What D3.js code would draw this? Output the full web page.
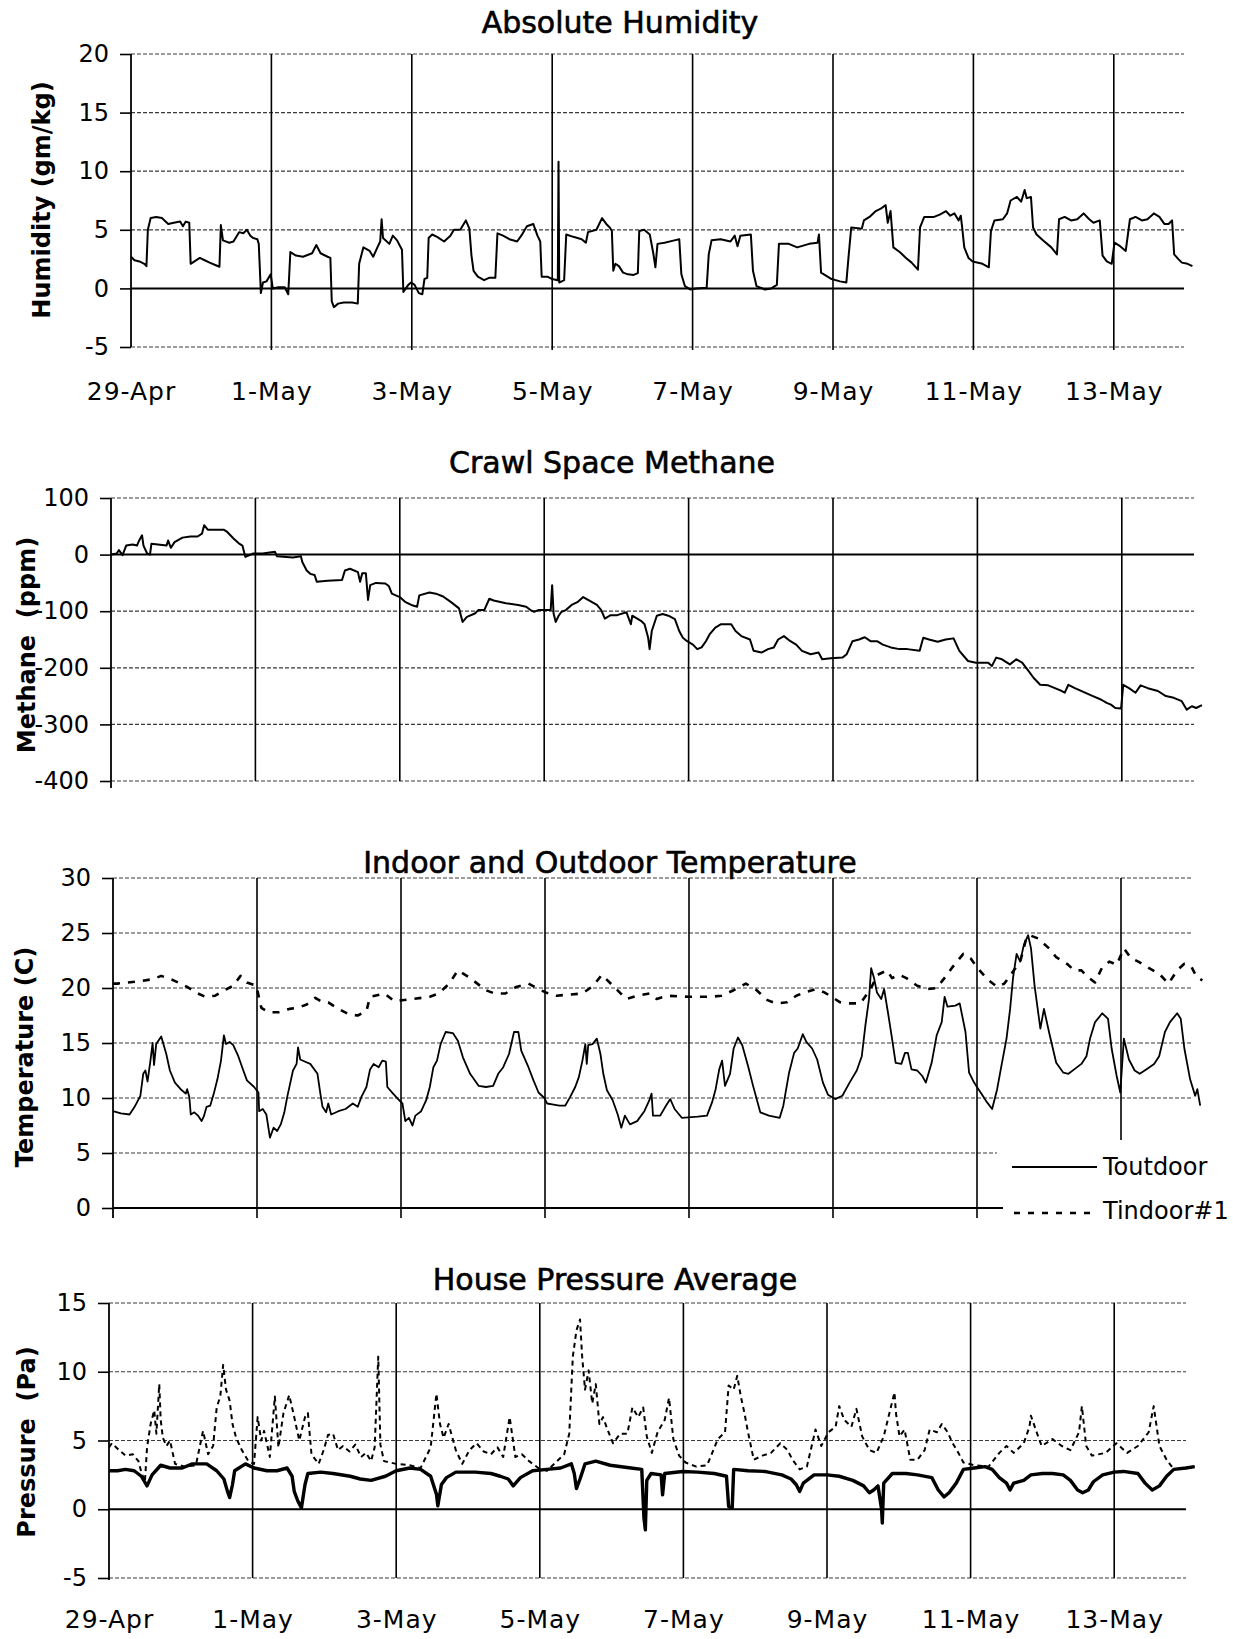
<!DOCTYPE html>
<html>
<head>
<meta charset="utf-8">
<script src="https://cdn.jsdelivr.net/npm/d3@7"></script>
<style>
  body { margin: 0; background: #fff; }
  svg { display: block; }
</style>
</head>
<body>
<svg id="chart" width="1233" height="1639"></svg>
<script>
// ---- data -------------------------------------------------------------
// Time is in days after 29-Apr 00:00; values in the panel's units.
const dateLabels = ["29-Apr", "1-May", "3-May", "5-May", "7-May", "9-May", "11-May", "13-May"];
const humidityTicks = [-5, 0, 5, 10, 15, 20];
const methaneTicks = [-400, -300, -200, -100, 0, 100];
const temperatureTicks = [0, 5, 10, 15, 20, 25, 30];
const pressureTicks = [-5, 0, 5, 10, 15];

const humidity = [[0.00,2.7],[0.05,2.4],[0.12,2.3],[0.19,2.1],[0.22,1.9],[0.24,5.0],[0.28,6.0],[0.36,6.1],[0.44,6.0],[0.53,5.5],[0.61,5.6],[0.70,5.7],[0.74,5.3],[0.78,5.7],[0.83,5.6],[0.85,2.1],[0.98,2.6],[1.05,2.4],[1.12,2.2],[1.20,2.0],[1.26,1.85],[1.28,5.4],[1.31,4.1],[1.40,3.9],[1.46,4.0],[1.54,4.8],[1.60,4.7],[1.65,5.0],[1.70,4.5],[1.74,4.3],[1.80,4.2],[1.82,3.8],[1.85,-0.4],[1.88,0.5],[1.93,0.6],[1.99,1.2],[2.02,0.0],[2.10,0.1],[2.19,0.1],[2.24,-0.5],[2.27,3.1],[2.35,2.8],[2.45,2.7],[2.58,3.0],[2.64,3.7],[2.70,3.0],[2.80,2.7],[2.84,2.6],[2.86,-1.1],[2.89,-1.6],[2.95,-1.3],[3.03,-1.2],[3.15,-1.2],[3.23,-1.3],[3.25,2.1],[3.31,3.5],[3.40,3.2],[3.45,2.7],[3.51,3.5],[3.55,4.0],[3.57,5.9],[3.59,4.3],[3.68,3.8],[3.73,4.5],[3.79,4.1],[3.86,3.3],[3.88,-0.3],[3.95,0.3],[3.99,0.5],[4.04,0.3],[4.10,-0.4],[4.15,-0.5],[4.18,0.8],[4.22,0.9],[4.24,4.3],[4.29,4.6],[4.36,4.4],[4.46,4.0],[4.55,4.5],[4.60,5.0],[4.69,5.0],[4.77,5.8],[4.82,5.1],[4.85,2.8],[4.88,1.5],[4.94,1.0],[5.03,0.7],[5.10,0.9],[5.19,0.9],[5.22,4.7],[5.30,4.5],[5.39,4.2],[5.50,4.0],[5.56,4.5],[5.64,5.3],[5.73,5.5],[5.79,4.5],[5.83,4.0],[5.85,1.0],[5.93,1.0],[6.00,0.8],[6.08,0.7],[6.09,10.8],[6.10,0.5],[6.17,0.7],[6.20,4.6],[6.30,4.4],[6.42,4.2],[6.48,3.9],[6.51,4.8],[6.63,5.0],[6.71,6.0],[6.77,5.5],[6.82,5.2],[6.85,4.9],[6.87,1.5],[6.90,2.1],[6.95,1.9],[7.01,1.35],[7.08,1.2],[7.16,1.15],[7.22,1.3],[7.24,4.9],[7.31,5.0],[7.39,4.6],[7.44,3.0],[7.47,1.8],[7.50,3.8],[7.60,3.9],[7.74,4.1],[7.81,4.2],[7.84,1.2],[7.89,0.2],[7.97,-0.1],[8.05,0.0],[8.20,0.05],[8.23,2.9],[8.27,4.1],[8.40,4.2],[8.54,4.0],[8.60,4.5],[8.64,3.6],[8.68,4.5],[8.83,4.6],[8.86,1.5],[8.91,0.2],[9.03,-0.1],[9.12,0.0],[9.20,0.3],[9.23,3.8],[9.37,3.8],[9.49,3.5],[9.66,3.8],[9.78,3.9],[9.80,4.6],[9.83,1.35],[9.98,0.8],[10.10,0.6],[10.19,0.5],[10.22,2.6],[10.26,5.2],[10.41,5.1],[10.44,5.8],[10.52,6.1],[10.61,6.6],[10.68,6.8],[10.75,7.1],[10.78,5.6],[10.82,6.6],[10.86,3.5],[10.95,3.1],[11.04,2.6],[11.12,2.2],[11.21,1.6],[11.24,5.2],[11.30,6.1],[11.44,6.1],[11.52,6.3],[11.61,6.6],[11.67,6.2],[11.73,6.4],[11.79,5.8],[11.82,6.2],[11.84,5.2],[11.87,3.5],[11.93,2.6],[11.99,2.3],[12.13,2.1],[12.22,1.8],[12.25,4.9],[12.30,5.8],[12.42,5.9],[12.48,6.4],[12.53,7.5],[12.62,7.8],[12.68,7.4],[12.73,8.4],[12.76,7.7],[12.82,7.8],[12.85,5.2],[12.90,4.6],[12.99,4.1],[13.11,3.5],[13.19,2.9],[13.22,5.9],[13.30,6.1],[13.39,5.8],[13.48,5.9],[13.57,6.4],[13.65,5.9],[13.71,5.6],[13.80,5.8],[13.84,2.8],[13.90,2.3],[13.97,2.1],[14.01,3.9],[14.09,3.6],[14.17,3.2],[14.23,5.9],[14.31,6.1],[14.40,5.8],[14.48,5.9],[14.57,6.4],[14.65,6.1],[14.72,5.5],[14.78,5.5],[14.83,5.8],[14.86,2.9],[14.92,2.5],[14.97,2.2],[15.05,2.1],[15.12,1.9]];

const methane = [[0.00,0],[0.08,2],[0.11,8],[0.16,-1],[0.21,16],[0.30,18],[0.36,16],[0.39,25],[0.43,34],[0.45,16],[0.50,2],[0.54,0],[0.56,19],[0.65,18],[0.77,16],[0.79,25],[0.83,12],[0.88,22],[0.99,30],[1.10,32],[1.20,32],[1.26,37],[1.29,52],[1.34,44],[1.45,44],[1.56,44],[1.61,40],[1.70,28],[1.77,20],[1.82,16],[1.86,-4],[1.97,2],[2.10,2],[2.27,5],[2.30,-3],[2.52,-5],[2.63,-3],[2.65,-13],[2.71,-28],[2.76,-34],[2.82,-36],[2.85,-48],[3.00,-46],[3.20,-45],[3.24,-28],[3.31,-25],[3.42,-31],[3.45,-48],[3.48,-33],[3.53,-33],[3.56,-80],[3.59,-54],[3.67,-50],[3.80,-51],[3.85,-56],[3.89,-69],[4.00,-75],[4.08,-84],[4.16,-89],[4.24,-92],[4.27,-72],[4.41,-67],[4.50,-69],[4.60,-74],[4.71,-84],[4.82,-95],[4.87,-119],[4.93,-110],[5.04,-104],[5.09,-98],[5.17,-98],[5.24,-78],[5.30,-81],[5.47,-86],[5.64,-89],[5.75,-92],[5.81,-98],[5.86,-101],[5.92,-98],[6.09,-98],[6.11,-54],[6.13,-104],[6.16,-119],[6.20,-108],[6.24,-101],[6.30,-98],[6.38,-89],[6.46,-84],[6.54,-75],[6.62,-81],[6.73,-89],[6.79,-98],[6.84,-113],[6.92,-107],[7.01,-107],[7.14,-102],[7.20,-123],[7.22,-108],[7.34,-117],[7.39,-123],[7.44,-147],[7.46,-167],[7.49,-135],[7.56,-108],[7.64,-105],[7.72,-108],[7.81,-114],[7.87,-135],[7.92,-147],[7.98,-153],[8.06,-159],[8.12,-167],[8.18,-164],[8.24,-153],[8.29,-141],[8.37,-129],[8.45,-123],[8.59,-123],[8.65,-135],[8.73,-144],[8.85,-150],[8.90,-170],[9.01,-173],[9.10,-167],[9.18,-164],[9.24,-150],[9.32,-144],[9.41,-153],[9.49,-159],[9.57,-170],[9.69,-176],[9.80,-173],[9.85,-185],[9.97,-183],[10.13,-182],[10.19,-176],[10.27,-153],[10.36,-150],[10.44,-146],[10.52,-153],[10.61,-153],[10.69,-159],[10.80,-164],[10.92,-167],[11.03,-167],[11.20,-170],[11.25,-147],[11.33,-150],[11.45,-154],[11.56,-150],[11.67,-148],[11.75,-170],[11.87,-188],[11.98,-191],[12.15,-191],[12.20,-197],[12.26,-182],[12.34,-185],[12.45,-194],[12.54,-185],[12.62,-191],[12.71,-206],[12.78,-218],[12.87,-230],[12.98,-231],[13.15,-240],[13.21,-244],[13.26,-230],[13.35,-236],[13.49,-244],[13.60,-250],[13.71,-256],[13.79,-262],[13.85,-265],[13.91,-271],[13.99,-272],[14.02,-230],[14.10,-236],[14.19,-244],[14.26,-231],[14.36,-236],[14.50,-241],[14.61,-250],[14.72,-253],[14.83,-259],[14.90,-274],[14.97,-268],[15.03,-271],[15.11,-266]];

const tOutdoor = [[0.00,8.8],[0.11,8.6],[0.23,8.5],[0.30,9.2],[0.38,10.2],[0.42,12.2],[0.45,12.5],[0.48,11.5],[0.52,13.4],[0.55,15.0],[0.57,13.0],[0.60,14.9],[0.67,15.6],[0.74,14.0],[0.79,12.5],[0.86,11.4],[0.94,10.8],[1.01,10.4],[1.03,10.8],[1.06,10.1],[1.08,8.5],[1.13,8.7],[1.18,8.4],[1.23,7.9],[1.26,8.3],[1.30,9.2],[1.35,9.3],[1.40,10.4],[1.45,11.7],[1.50,13.4],[1.54,15.7],[1.57,14.9],[1.62,15.1],[1.67,14.8],[1.74,13.8],[1.81,12.5],[1.86,11.6],[1.96,11.0],[2.02,10.5],[2.03,8.8],[2.08,9.0],[2.13,8.5],[2.18,6.4],[2.23,7.3],[2.28,7.0],[2.33,7.6],[2.38,8.7],[2.42,10.1],[2.47,11.6],[2.50,12.5],[2.55,13.1],[2.57,14.6],[2.60,13.5],[2.67,13.3],[2.74,13.1],[2.84,12.2],[2.88,10.4],[2.91,9.2],[2.96,8.7],[2.99,9.5],[3.03,8.5],[3.13,8.8],[3.23,9.0],[3.33,9.5],[3.40,9.2],[3.45,10.1],[3.52,11.0],[3.57,12.6],[3.62,13.1],[3.69,12.8],[3.74,13.4],[3.79,13.3],[3.81,11.0],[3.89,10.4],[3.96,9.9],[4.02,9.5],[4.06,7.9],[4.11,8.2],[4.16,7.5],[4.20,8.4],[4.28,8.8],[4.35,9.8],[4.40,11.0],[4.45,12.8],[4.50,13.4],[4.55,14.9],[4.62,16.0],[4.72,15.9],[4.79,15.2],[4.86,13.7],[4.96,12.2],[5.08,11.1],[5.18,11.0],[5.28,11.1],[5.35,12.2],[5.42,12.8],[5.50,14.0],[5.57,16.0],[5.63,16.0],[5.67,14.3],[5.77,12.8],[5.84,11.6],[5.91,10.5],[5.99,10.0],[6.03,9.5],[6.12,9.4],[6.20,9.3],[6.28,9.3],[6.35,10.1],[6.42,11.0],[6.47,11.9],[6.52,13.4],[6.56,14.9],[6.58,13.1],[6.60,14.8],[6.66,14.9],[6.72,15.4],[6.77,14.0],[6.81,12.2],[6.86,10.7],[6.94,9.8],[7.01,8.5],[7.06,7.3],[7.11,8.4],[7.18,7.6],[7.28,7.9],[7.38,8.8],[7.45,9.8],[7.48,10.4],[7.50,8.4],[7.60,8.4],[7.68,9.3],[7.74,9.9],[7.80,9.0],[7.90,8.2],[8.12,8.3],[8.25,8.4],[8.32,9.6],[8.37,10.8],[8.42,12.6],[8.46,13.4],[8.50,11.1],[8.57,12.2],[8.62,14.5],[8.68,15.5],[8.74,14.8],[8.82,12.9],[8.89,11.1],[8.99,8.7],[9.11,8.4],[9.26,8.2],[9.31,9.3],[9.39,12.3],[9.46,14.1],[9.51,14.5],[9.58,15.8],[9.63,15.1],[9.71,14.5],[9.78,13.5],[9.86,11.4],[9.93,10.3],[10.03,9.9],[10.13,10.2],[10.23,11.4],[10.33,12.5],[10.40,13.8],[10.45,16.6],[10.50,19.0],[10.53,21.8],[10.57,20.9],[10.61,19.6],[10.67,19.0],[10.71,19.9],[10.77,17.5],[10.82,15.4],[10.87,13.2],[10.95,13.1],[11.00,14.1],[11.04,14.1],[11.09,12.6],[11.17,12.5],[11.24,12.0],[11.29,11.4],[11.37,13.2],[11.44,15.7],[11.51,16.9],[11.55,19.2],[11.59,18.3],[11.70,18.4],[11.76,18.6],[11.84,16.0],[11.89,12.3],[11.96,11.4],[12.02,10.8],[12.08,10.2],[12.14,9.6],[12.21,9.0],[12.28,10.8],[12.33,12.6],[12.41,15.4],[12.46,18.1],[12.50,20.9],[12.55,23.1],[12.60,22.4],[12.65,23.9],[12.71,24.8],[12.75,23.6],[12.80,20.2],[12.88,16.3],[12.93,18.1],[13.00,16.0],[13.10,13.2],[13.20,12.3],[13.27,12.2],[13.35,12.6],[13.45,13.1],[13.52,13.8],[13.57,15.4],[13.64,16.9],[13.74,17.7],[13.82,17.2],[13.87,14.5],[13.94,12.0],[13.99,10.5],[14.04,15.4],[14.11,13.5],[14.19,12.5],[14.26,12.2],[14.35,12.6],[14.46,13.1],[14.53,13.8],[14.61,16.0],[14.68,16.9],[14.78,17.7],[14.83,17.2],[14.88,14.5],[14.96,11.7],[15.03,10.2],[15.06,10.8],[15.10,9.3]];

const tIndoor = [[0.00,20.4],[0.06,20.4],[0.20,20.5],[0.35,20.6],[0.55,20.8],[0.67,21.1],[0.84,20.7],[1.03,20.1],[1.18,19.5],[1.28,19.2],[1.42,19.3],[1.55,19.8],[1.67,20.2],[1.77,21.1],[1.86,20.5],[1.99,20.2],[2.06,18.2],[2.16,17.8],[2.30,17.8],[2.45,18.1],[2.57,18.2],[2.69,18.5],[2.81,19.1],[2.89,18.8],[2.99,18.7],[3.13,18.1],[3.28,17.6],[3.40,17.5],[3.52,17.9],[3.57,19.2],[3.77,19.5],[3.91,18.8],[4.16,19.0],[4.40,19.2],[4.52,19.5],[4.67,20.4],[4.79,21.6],[4.94,21.0],[5.06,20.4],[5.18,19.8],[5.30,19.5],[5.45,19.5],[5.60,20.1],[5.77,20.4],[5.91,19.9],[6.01,19.6],[6.16,19.3],[6.52,19.5],[6.67,20.2],[6.79,21.2],[6.96,20.1],[7.13,19.0],[7.28,19.3],[7.45,19.5],[7.55,19.0],[7.70,19.3],[8.00,19.2],[8.30,19.2],[8.45,19.3],[8.62,19.8],[8.79,20.4],[8.94,19.8],[9.09,18.9],[9.21,18.6],[9.36,18.7],[9.49,19.3],[9.61,19.6],[9.76,19.9],[9.88,19.6],[9.98,19.2],[10.10,18.7],[10.23,18.6],[10.38,18.6],[10.52,19.9],[10.62,21.2],[10.75,21.6],[10.82,20.9],[10.92,21.2],[11.02,20.9],[11.17,20.2],[11.32,19.9],[11.44,20.0],[11.56,21.0],[11.66,21.9],[11.81,23.1],[11.91,22.7],[12.01,21.8],[12.16,20.7],[12.28,20.1],[12.38,20.4],[12.50,21.5],[12.60,22.4],[12.68,24.4],[12.73,24.8],[12.85,24.5],[13.00,23.6],[13.10,22.8],[13.25,22.2],[13.35,21.6],[13.45,21.6],[13.54,21.0],[13.64,20.5],[13.74,21.9],[13.84,22.4],[13.94,22.1],[14.04,23.6],[14.14,22.7],[14.24,22.4],[14.39,21.8],[14.53,21.3],[14.66,20.4],[14.78,21.6],[14.88,22.2],[14.98,21.9],[15.05,21.0],[15.13,20.7]];

const pressureAvg = [[0.00,2.8],[0.12,2.8],[0.23,2.9],[0.35,2.8],[0.45,2.4],[0.53,1.7],[0.60,2.5],[0.72,3.2],[0.85,3.0],[1.02,3.0],[1.16,3.3],[1.36,3.3],[1.50,2.8],[1.60,2.2],[1.65,1.3],[1.68,0.85],[1.72,1.8],[1.75,2.8],[1.90,3.3],[2.02,3.0],[2.20,2.8],[2.34,2.8],[2.48,3.0],[2.55,2.4],[2.58,1.3],[2.63,0.6],[2.68,0.1],[2.73,1.8],[2.77,2.6],[2.95,2.7],[3.12,2.6],[3.36,2.4],[3.50,2.2],[3.65,2.1],[3.85,2.4],[4.00,2.8],[4.19,3.0],[4.34,2.9],[4.48,2.4],[4.56,1.1],[4.58,0.25],[4.63,1.8],[4.70,2.3],[4.83,2.7],[5.10,2.7],[5.32,2.6],[5.45,2.4],[5.56,2.2],[5.63,1.7],[5.73,2.3],[5.90,2.8],[6.10,2.9],[6.29,3.0],[6.44,3.3],[6.48,2.6],[6.51,1.5],[6.56,2.2],[6.63,3.3],[6.78,3.5],[6.98,3.2],[7.27,3.0],[7.42,2.9],[7.45,-0.6],[7.47,-1.5],[7.49,2.1],[7.55,2.6],[7.69,2.5],[7.71,1.05],[7.74,2.6],[7.99,2.75],[8.20,2.7],[8.43,2.6],[8.60,2.4],[8.63,0.2],[8.68,0.1],[8.70,2.9],[8.90,2.8],[9.13,2.75],[9.37,2.5],[9.50,2.2],[9.57,1.8],[9.62,1.3],[9.67,1.9],[9.82,2.5],[10.00,2.5],[10.17,2.4],[10.36,2.1],[10.51,1.7],[10.59,1.2],[10.65,1.4],[10.71,1.7],[10.76,0.0],[10.77,-1.0],[10.79,1.9],[10.91,2.6],[11.10,2.6],[11.26,2.5],[11.46,2.3],[11.55,1.4],[11.63,0.9],[11.70,1.2],[11.80,1.9],[11.90,2.9],[12.05,3.0],[12.20,3.1],[12.30,2.9],[12.40,2.3],[12.50,1.9],[12.55,1.4],[12.60,1.9],[12.74,2.1],[12.84,2.5],[13.00,2.6],[13.14,2.6],[13.29,2.5],[13.39,2.1],[13.49,1.4],[13.56,1.2],[13.64,1.4],[13.71,2.0],[13.84,2.5],[14.00,2.7],[14.13,2.75],[14.33,2.6],[14.43,1.9],[14.53,1.4],[14.63,1.7],[14.73,2.4],[14.83,2.9],[15.00,3.0],[15.12,3.1]];

const pressureInst = [[0.00,4.5],[0.04,4.8],[0.14,4.3],[0.23,3.9],[0.33,4.0],[0.41,3.5],[0.45,2.7],[0.50,2.0],[0.53,4.5],[0.58,6.2],[0.63,7.2],[0.66,5.5],[0.70,9.1],[0.72,6.5],[0.75,5.2],[0.80,4.6],[0.85,5.0],[0.92,3.3],[1.05,3.1],[1.21,3.2],[1.31,5.7],[1.38,4.0],[1.45,4.6],[1.50,7.4],[1.55,8.2],[1.59,10.5],[1.63,8.7],[1.68,7.9],[1.72,6.2],[1.77,5.2],[1.85,4.3],[1.94,3.5],[2.02,3.3],[2.07,6.7],[2.12,5.0],[2.16,5.7],[2.24,3.8],[2.31,8.2],[2.36,4.5],[2.43,7.0],[2.51,8.3],[2.58,6.7],[2.65,5.0],[2.73,6.7],[2.77,7.0],[2.82,4.0],[2.92,3.3],[2.99,4.3],[3.05,5.4],[3.12,5.5],[3.19,4.3],[3.26,4.6],[3.35,4.2],[3.43,4.7],[3.51,3.8],[3.58,4.1],[3.65,3.5],[3.70,4.5],[3.75,11.1],[3.78,4.7],[3.83,3.5],[4.00,3.3],[4.19,3.2],[4.34,3.0],[4.48,4.5],[4.56,8.4],[4.61,6.2],[4.66,5.2],[4.73,6.2],[4.83,4.3],[4.92,3.3],[5.02,4.3],[5.12,4.8],[5.22,4.2],[5.32,4.0],[5.41,4.5],[5.49,3.8],[5.58,6.7],[5.66,3.8],[5.75,4.0],[5.85,3.5],[5.98,3.0],[6.10,2.8],[6.24,3.5],[6.34,4.0],[6.41,5.5],[6.46,11.1],[6.51,13.0],[6.56,13.8],[6.59,11.1],[6.63,8.7],[6.68,10.1],[6.73,7.7],[6.78,9.1],[6.83,6.2],[6.88,6.7],[6.95,5.7],[7.02,4.8],[7.12,5.5],[7.22,5.5],[7.29,7.4],[7.37,6.7],[7.44,7.4],[7.49,5.3],[7.56,4.1],[7.64,5.6],[7.74,6.5],[7.80,8.1],[7.86,5.1],[7.94,3.9],[8.03,3.4],[8.18,3.1],[8.33,3.2],[8.48,5.1],[8.58,5.6],[8.63,9.0],[8.70,8.7],[8.75,9.7],[8.80,8.2],[8.85,7.0],[8.90,5.6],[8.98,3.6],[9.10,3.9],[9.22,4.1],[9.35,4.8],[9.45,4.3],[9.52,3.6],[9.62,2.9],[9.72,3.1],[9.84,5.8],[9.92,4.6],[10.02,5.6],[10.12,6.0],[10.17,7.5],[10.24,6.5],[10.34,6.0],[10.41,7.3],[10.49,5.3],[10.59,4.3],[10.69,4.1],[10.79,5.3],[10.94,8.5],[10.96,7.0],[11.01,5.3],[11.08,5.8],[11.16,3.6],[11.26,3.6],[11.36,4.3],[11.43,5.8],[11.53,5.6],[11.60,6.2],[11.68,5.6],[11.75,4.8],[11.83,4.1],[11.90,3.4],[12.05,3.2],[12.25,3.1],[12.40,4.1],[12.50,4.6],[12.60,4.1],[12.74,4.8],[12.82,6.0],[12.84,6.8],[12.92,5.6],[12.99,4.6],[13.14,5.1],[13.27,4.6],[13.39,4.3],[13.51,5.6],[13.55,7.5],[13.61,4.6],[13.69,3.9],[13.88,4.1],[14.03,4.8],[14.18,4.1],[14.33,4.6],[14.48,5.6],[14.55,7.5],[14.63,4.6],[14.73,3.6],[14.83,2.9],[15.00,3.0],[15.12,3.1]];

// ---- setup ------------------------------------------------------------
const FONT = "'DejaVu Sans', Verdana, sans-serif";
const parseDate = d3.utcParse("%d-%b-%Y");
const dateTicks = dateLabels.map(s => parseDate(s + "-1996"));
const start = dateTicks[0];
const end = parseDate("14-May-1996");
const at = t => new Date(+start + t * 864e5);
const svg = d3.select("#chart");

function panel(cfg) {
  const g = svg.append("g");
  const x = d3.scaleUtc().domain([start, end]).range([cfg.left, cfg.right]);
  const y = d3.scaleLinear().domain(d3.extent(cfg.ticks)).range([cfg.bottom, cfg.top]);

  // horizontal gridlines (zero is a solid rule)
  cfg.ticks.forEach(v => {
    const stop = (cfg.gridStop && cfg.gridStop[v] != null) ? cfg.gridStop[v] : cfg.right;
    g.append("line")
      .attr("x1", cfg.left).attr("x2", stop)
      .attr("y1", y(v)).attr("y2", y(v))
      .attr("stroke", v === 0 ? "#000" : "#3a3a3a")
      .attr("stroke-width", v === 0 ? 2 : 1.2)
      .attr("stroke-dasharray", v === 0 ? null : "4,2");
  });

  // vertical day rules every two days
  dateTicks.slice(1).forEach((d, i) => {
    const lab = dateLabels[i + 1];
    const y2 = (cfg.vStop && cfg.vStop[lab] != null) ? cfg.vStop[lab] : cfg.bottom + (cfg.vExt || 0);
    g.append("line")
      .attr("x1", x(d)).attr("x2", x(d))
      .attr("y1", cfg.top).attr("y2", y2)
      .attr("stroke", "#000").attr("stroke-width", 1.6);
  });

  // y axis
  const ax = g.append("g")
    .attr("transform", `translate(${cfg.left},0)`)
    .call(d3.axisLeft(y).tickValues(cfg.ticks).tickSize(11).tickPadding(11)
      .tickSizeOuter(0).tickFormat(d => String(d)));
  ax.select(".domain").remove();
  ax.selectAll(".tick line").attr("stroke", "#000").attr("stroke-width", 1.6);
  ax.selectAll(".tick text").attr("font-family", FONT).attr("font-size", 24).attr("fill", "#000");
  g.append("line")
    .attr("x1", cfg.left).attr("x2", cfg.left)
    .attr("y1", cfg.top).attr("y2", cfg.bottom + (cfg.axisExt || 0))
    .attr("stroke", "#000").attr("stroke-width", 1.8);

  // date labels
  if (cfg.xLabelY) {
    const xa = g.append("g")
      .attr("transform", `translate(0,${cfg.xLabelY})`)
      .call(d3.axisBottom(x).tickValues(dateTicks).tickSize(0)
        .tickFormat(d3.utcFormat("%-d-%b")));
    xa.select(".domain").remove();
    xa.selectAll(".tick text")
      .attr("y", 0).attr("dy", null)
      .attr("font-family", FONT).attr("font-size", 25)
      .attr("letter-spacing", 1).attr("fill", "#000");
  }

  // titles
  g.append("text")
    .attr("x", cfg.titleX).attr("y", cfg.titleY)
    .attr("text-anchor", "middle")
    .attr("font-family", FONT).attr("font-size", 30)
    .attr("fill", "#000").attr("stroke", "#000").attr("stroke-width", 0.6)
    .text(cfg.title);
  g.append("text")
    .attr("transform", `translate(${cfg.yLabelX},${cfg.yLabelY}) rotate(-90)`)
    .attr("text-anchor", "middle")
    .style("white-space", "pre")
    .attr("font-family", FONT).attr("font-size", 24).attr("font-weight", "bold")
    .attr("fill", "#000")
    .text(cfg.yLabel);

  const line = d3.line().x(d => x(at(d[0]))).y(d => y(d[1]));
  return { g, x, y, line };
}

function trace(p, data, width, dash) {
  p.g.append("path")
    .datum(data)
    .attr("d", p.line)
    .attr("fill", "none")
    .attr("stroke", "#000")
    .attr("stroke-width", width)
    .attr("stroke-linejoin", "round")
    .attr("stroke-dasharray", dash || null);
}

// ---- Absolute Humidity ------------------------------------------------
const p1 = panel({
  left: 131, right: 1184, top: 54, bottom: 347, ticks: humidityTicks,
  title: "Absolute Humidity", titleX: 620, titleY: 33,
  yLabel: "Humidity (gm/kg)", yLabelX: 50, yLabelY: 200,
  xLabelY: 400, vExt: 3
});
trace(p1, humidity, 2);

// ---- Crawl Space Methane ----------------------------------------------
const p2 = panel({
  left: 111, right: 1194, top: 498, bottom: 781, ticks: methaneTicks,
  title: "Crawl Space Methane", titleX: 612, titleY: 473,
  yLabel: "Methane  (ppm)", yLabelX: 35, yLabelY: 645,
  axisExt: 7
});
trace(p2, methane, 2);

// ---- Indoor and Outdoor Temperature -----------------------------------
const p3 = panel({
  left: 113, right: 1193, top: 878, bottom: 1208, ticks: temperatureTicks,
  title: "Indoor and Outdoor Temperature", titleX: 610, titleY: 873,
  yLabel: "Temperature (C)", yLabelX: 33, yLabelY: 1057,
  vExt: 10, axisExt: 10,
  gridStop: { 0: 1003, 5: 997 }, vStop: { "13-May": 1140 }
});
trace(p3, tIndoor, 2.6, "7,8");
trace(p3, tOutdoor, 1.8);

// legend
const lg = p3.g.append("g");
lg.append("line").attr("x1", 1012).attr("x2", 1097).attr("y1", 1167).attr("y2", 1167)
  .attr("stroke", "#000").attr("stroke-width", 1.8);
lg.append("line").attr("x1", 1014).attr("x2", 1098).attr("y1", 1213).attr("y2", 1213)
  .attr("stroke", "#000").attr("stroke-width", 2.6).attr("stroke-dasharray", "6,8");
lg.append("text").attr("x", 1103).attr("y", 1175).attr("font-family", FONT)
  .attr("font-size", 24).attr("fill", "#000").text("Toutdoor");
lg.append("text").attr("x", 1103).attr("y", 1219).attr("font-family", FONT)
  .attr("font-size", 24).attr("fill", "#000").text("Tindoor#1");

// ---- House Pressure Average -------------------------------------------
const p4 = panel({
  left: 109, right: 1186, top: 1303, bottom: 1578, ticks: pressureTicks,
  title: "House Pressure Average", titleX: 615, titleY: 1290,
  yLabel: "Pressure  (Pa)", yLabelX: 35, yLabelY: 1442,
  xLabelY: 1628, axisExt: 2
});
trace(p4, pressureInst, 2, "5,4");
trace(p4, pressureAvg, 3.4);
</script>
</body>
</html>
